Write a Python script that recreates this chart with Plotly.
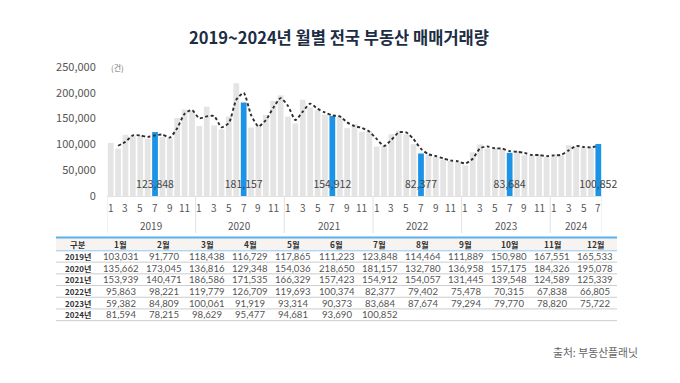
import plotly.graph_objects as go

# ---------------- data ----------------
years = ["2019", "2020", "2021", "2022", "2023", "2024"]
month_labels = ["1월", "2월", "3월", "4월", "5월", "6월", "7월", "8월", "9월", "10월", "11월", "12월"]
tick_months = ["1", "3", "5", "7", "9", "11"]

v2019 = [103031, 91770, 118438, 116729, 117865, 111223, 123848, 114464, 111889, 150980, 167551, 165533]
v2020 = [135662, 173045, 136816, 129348, 154036, 218650, 181157, 132780, 136958, 157175, 184326, 195078]
v2021 = [153939, 140471, 186586, 171535, 166329, 157423, 154912, 154057, 131445, 139548, 124589, 125339]
v2022 = [95863, 98221, 119779, 126709, 119693, 100374, 82377, 79402, 75478, 70315, 67838, 66805]
v2023 = [59382, 84809, 100061, 91919, 93314, 90373, 83684, 87674, 79294, 79770, 78820, 75722]
v2024 = [81594, 78215, 98629, 95477, 94681, 93690, 100852]
by_year = [v2019, v2020, v2021, v2022, v2023, v2024]

title_text = "2019~2024년 월별 전국 부동산 매매거래량"
unit_text = "(건)"
source_text = "출처: 부동산플래닛"
table_corner = "구분"

# ---------------- derived series ----------------
values = [v for yr in by_year for v in yr]
month_num = [m + 1 for yr in by_year for m in range(len(yr))]
xs = list(range(len(values)))
# 2-period moving average trend line (as in the source chart)
trend_x = xs[1:]
trend_y = [(a + b) / 2 for a, b in zip(values[:-1], values[1:])]

GRAY = "#e4e4e4"
BLUE = "#1b93e6"
FONT = "Noto Sans CJK KR"
NUMFONT = "Lato"

bar_colors = [BLUE if m == 7 else GRAY for m in month_num]

# The page body has an 8px margin; work in screenshot pixels and convert.
OFF = 8
W, H = 664, 367
L, T = 107 - OFF, 67 - OFF
PW, PH = 495, 129
R, B = W - L - PW, H - T - PH


def px(xs_):
    return (xs_ - OFF - L) / PW


def py(ys_):
    return (T + PH - (ys_ - OFF)) / PH


fig = go.Figure()
fig.add_trace(go.Bar(x=xs, y=values, marker=dict(color=bar_colors, line=dict(width=0)),
                     hoverinfo="skip", showlegend=False))
fig.add_trace(go.Scatter(x=trend_x, y=trend_y, mode="lines",
                         line=dict(color="#2e2e2e", width=1.9, dash="3px,2.5px", shape="spline", smoothing=0.6),
                         hoverinfo="skip", showlegend=False))

jul_x = [x for x, m in zip(xs, month_num) if m == 7]
jul_v = [v for v, m in zip(values, month_num) if m == 7]
fig.add_trace(go.Scatter(x=jul_x, y=[20700] * len(jul_x), mode="text",
                         text=[f"{v:,}" for v in jul_v],
                         textfont=dict(family=FONT, size=10.5, color="#444444"),
                         textposition="middle center", hoverinfo="skip", showlegend=False,
                         cliponaxis=False))

annotations = []
shapes = []

# title
annotations.append(dict(text=f"<b>{title_text}</b>", x=px(339), xref="paper", xanchor="center",
                        y=py(36.5), yref="paper", yanchor="middle", showarrow=False,
                        font=dict(family=FONT, size=16.5, color="#1d2d44")))
# unit
annotations.append(dict(text=unit_text, x=px(109), xref="paper", xanchor="left", y=py(67), yref="paper",
                        yanchor="middle", showarrow=False, font=dict(family=FONT, size=8, color="#777777")))

# month tick labels & year labels & separators
start = 0
for yi, yr in enumerate(by_year):
    n = len(yr)
    for m in range(n):
        if str(m + 1) in tick_months:
            annotations.append(dict(text=str(m + 1), x=start + m, xref="x", xanchor="center",
                                    y=py(207), yref="paper", yanchor="middle", showarrow=False,
                                    font=dict(family=FONT, size=10, color="#555555")))
    annotations.append(dict(text=years[yi], x=start + (n - 1) / 2, xref="x", xanchor="center",
                            y=py(225), yref="paper", yanchor="middle", showarrow=False,
                            font=dict(family=FONT, size=10, color="#555555")))
    shapes.append(dict(type="line", xref="x", yref="paper", x0=start - 0.5, x1=start - 0.5,
                       y0=py(196), y1=py(233), line=dict(color="#e2e2e2", width=1)))
    start += n
shapes.append(dict(type="line", xref="x", yref="paper", x0=start - 0.5, x1=start - 0.5,
                   y0=py(196), y1=py(233), line=dict(color="#e2e2e2", width=1)))

# ---------------- table ----------------
TL, TR = 56, 617
ncol = 13
cw = (TR - TL) / ncol
head_c = 244.3
row_h = 11.7
row0 = 256.3

shapes.append(dict(type="rect", xref="paper", yref="paper", x0=px(TL), x1=px(TR), y0=py(250.5), y1=py(238),
                   fillcolor="#f6f3f1", line=dict(width=0), layer="below"))
shapes.append(dict(type="line", xref="paper", yref="paper", x0=px(TL), x1=px(TR), y0=py(237.5), y1=py(237.5),
                   line=dict(color="#5db2ec", width=2)))
shapes.append(dict(type="line", xref="paper", yref="paper", x0=px(TL), x1=px(TR), y0=py(250.8), y1=py(250.8),
                   line=dict(color="#8fc8f0", width=1)))

headers = [table_corner] + month_labels
for c, h in enumerate(headers):
    annotations.append(dict(text=f"<b>{h}</b>", x=px(TL + cw * (c + 0.5)), xref="paper", xanchor="center",
                            y=py(head_c), yref="paper", yanchor="middle", showarrow=False, borderpad=0,
                            font=dict(family=FONT, size=8.3, color="#333333")))
for r, yr in enumerate(by_year):
    cy = row0 + r * row_h
    annotations.append(dict(text=f"<b>{years[r]}년</b>", x=px(TL + cw * 0.5), xref="paper", xanchor="center",
                            y=py(cy), yref="paper", yanchor="middle", showarrow=False, borderpad=0,
                            font=dict(family=FONT, size=8, color="#333333")))
    for m, v in enumerate(yr):
        annotations.append(dict(text=f"{v:,}", x=px(TL + cw * (m + 1.5)), xref="paper", xanchor="center",
                                y=py(cy), yref="paper", yanchor="middle", showarrow=False, borderpad=0,
                                font=dict(family=NUMFONT, size=9.6, color="#555555")))
    ly = cy + row_h / 2
    shapes.append(dict(type="line", xref="paper", yref="paper", x0=px(TL), x1=px(TR), y0=py(ly), y1=py(ly),
                       line=dict(color="#cccccc", width=1)))

# source
annotations.append(dict(text=source_text, x=px(640), xref="paper", xanchor="right", y=py(352), yref="paper",
                        yanchor="middle", showarrow=False, font=dict(family=FONT, size=10.8, color="#666666")))

fig.update_layout(
    width=W, height=H,
    margin=dict(l=L, r=R, t=T, b=B, pad=0),
    paper_bgcolor="white", plot_bgcolor="white",
    bargap=0.22,
    font=dict(family=FONT, size=10, color="#555555"),
    xaxis=dict(range=[-0.5, len(values) - 0.5], showticklabels=False, showgrid=False, zeroline=False,
               showline=True, linecolor="#e2e2e2", linewidth=1, ticks="", fixedrange=True),
    yaxis=dict(range=[0, 250000], tickvals=[0, 50000, 100000, 150000, 200000, 250000], tickformat=",",
               showgrid=False, zeroline=False, showline=False, ticks="outside", ticklen=8,
               tickcolor="rgba(0,0,0,0)", tickfont=dict(family=FONT, size=11, color="#555555"),
               fixedrange=True),
    annotations=annotations,
    shapes=shapes,
    showlegend=False,
)

fig.write_html("out.html")
